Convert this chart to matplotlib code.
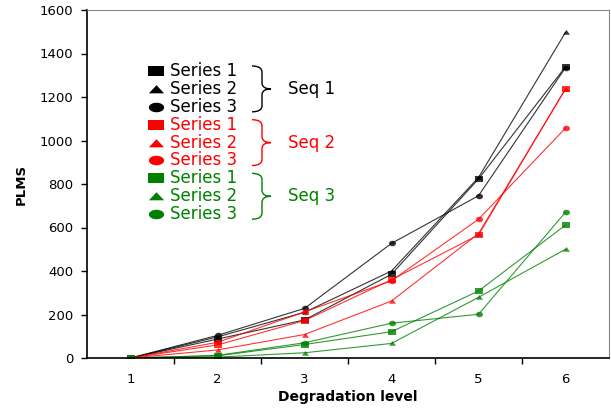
import matplotlib
matplotlib.use("Agg")
import numpy as np
import matplotlib.pyplot as plt
from matplotlib.path import Path
from matplotlib.patches import PathPatch
from matplotlib.lines import Line2D

plt.rcParams['font.family'] = ['DejaVu Sans']

levels = [1, 2, 3, 4, 5, 6]
xtick_labels = ['1', '2', '3', '4', '5', '6']
yticks = [0, 200, 400, 600, 800, 1000, 1200, 1400, 1600]

seq1_s1 = [0, 87, 175, 385, 823, 1339]
seq1_s2 = [0, 97, 210, 400, 830, 1497]
seq1_s3 = [0, 104, 228, 527, 746, 1335]
seq2_s1 = [0, 60, 172, 360, 566, 1237]
seq2_s2 = [0, 37, 108, 262, 572, 1237]
seq2_s3 = [0, 72, 212, 355, 638, 1057]
seq3_s1 = [0, 10, 62, 121, 308, 611]
seq3_s2 = [0, 4, 24, 67, 279, 500]
seq3_s3 = [0, 12, 70, 160, 201, 670]

groups = [
    ("Seq 1", "black", [seq1_s1, seq1_s2, seq1_s3]),
    ("Seq 2", "#ff0000", [seq2_s1, seq2_s2, seq2_s3]),
    ("Seq 3", "#008000", [seq3_s1, seq3_s2, seq3_s3]),
]
series_names = ["Series 1", "Series 2", "Series 3"]


def wide_markers(ratio):
    sq = Path([(-ratio, -1), (ratio, -1), (ratio, 1), (-ratio, 1), (-ratio, -1)],
              [Path.MOVETO, Path.LINETO, Path.LINETO, Path.LINETO, Path.CLOSEPOLY])
    tri = Path([(-ratio, -0.8), (ratio, -0.8), (0, 0.9), (-ratio, -0.8)],
               [Path.MOVETO, Path.LINETO, Path.LINETO, Path.CLOSEPOLY])
    t = np.linspace(0, 2 * np.pi, 40)
    ell = Path(np.column_stack([ratio * np.cos(t), np.sin(t)]))
    return [sq, tri, ell]


data_markers = wide_markers(1.25)
legend_markers = wide_markers(1.6)

fig = plt.figure(figsize=(6.11, 4.08), dpi=100)
ax = fig.add_axes([87/611, 1 - 358/408, (609 - 87)/611, (358 - 10)/408])

data_ms = [6.0, 5.0, 5.0]
for name, color, series in groups:
    for vals, m, ms in zip(series, data_markers, data_ms):
        ax.plot(levels, vals, color=color, marker=m, markersize=ms,
                linewidth=0.8, alpha=0.8, markeredgewidth=0)

ax.set_xlim(0.5, 6.5)
ax.set_ylim(0, 1600)
ax.set_yticks(yticks)
ax.set_yticklabels([str(v) for v in yticks], fontsize=9.5)
ax.set_xticks(levels)
ax.set_xticklabels(xtick_labels, fontsize=9.5)
ax.set_xticks([1.5, 2.5, 3.5, 4.5, 5.5], minor=True)
ax.tick_params(axis='x', which='major', length=0, pad=11)
ax.tick_params(axis='x', which='minor', length=4, direction='out', width=1)
ax.tick_params(axis='y', length=4, direction='out', width=1, pad=6)
for s in ['left', 'bottom']:
    ax.spines[s].set_color('black')
    ax.spines[s].set_linewidth(1.2)
for s in ['top', 'right']:
    ax.spines[s].set_color('#888888')
    ax.spines[s].set_linewidth(0.8)

ax.set_xlabel("Degradation level", fontsize=10, fontweight='bold', labelpad=3)
ax.set_ylabel("PLMS", fontsize=9.5, fontweight='bold', labelpad=8)

# custom grouped legend (figure pixel coordinates -> figure fraction)
W, H = 611, 408


def fx(px):
    return px / W


def fy(py):
    return 1 - py / H


row0 = 71
dy = 17.9
row = 0
for name, color, series in groups:
    ys = []
    for sname, m in zip(series_names, legend_markers):
        y = row0 + row * dy
        ys.append(y)
        fig.add_artist(Line2D([fx(156)], [fy(y)], marker=m, color=color,
                              markersize=11, markeredgewidth=0,
                              linestyle='none'))
        fig.text(fx(170), fy(y), sname, color=color, fontsize=12,
                 va='center', ha='left')
        row += 1
    ytop = ys[0] - 5
    ybot = ys[-1] + 5
    ymid = (ytop + ybot) / 2
    x0, x1, x2 = 252, 262, 271
    pv = [(x0, ytop), (x1, ytop), (x1, ytop + 6),
          (x1, ymid - 6), (x1, ymid), (x2, ymid),
          (x1, ymid), (x1, ymid + 6),
          (x1, ybot - 6), (x1, ybot), (x0, ybot)]
    pc = [Path.MOVETO, Path.CURVE3, Path.CURVE3,
          Path.LINETO, Path.CURVE3, Path.CURVE3,
          Path.CURVE3, Path.CURVE3,
          Path.LINETO, Path.CURVE3, Path.CURVE3]
    path = Path([(fx(a), fy(b)) for a, b in pv], pc)
    fig.add_artist(PathPatch(path, transform=fig.transFigure, facecolor='none',
                             edgecolor=color, linewidth=1.0))
    fig.text(fx(288), fy(ymid), name, color=color, fontsize=12,
             va='center', ha='left')

fig.savefig("out.png", dpi=100)
